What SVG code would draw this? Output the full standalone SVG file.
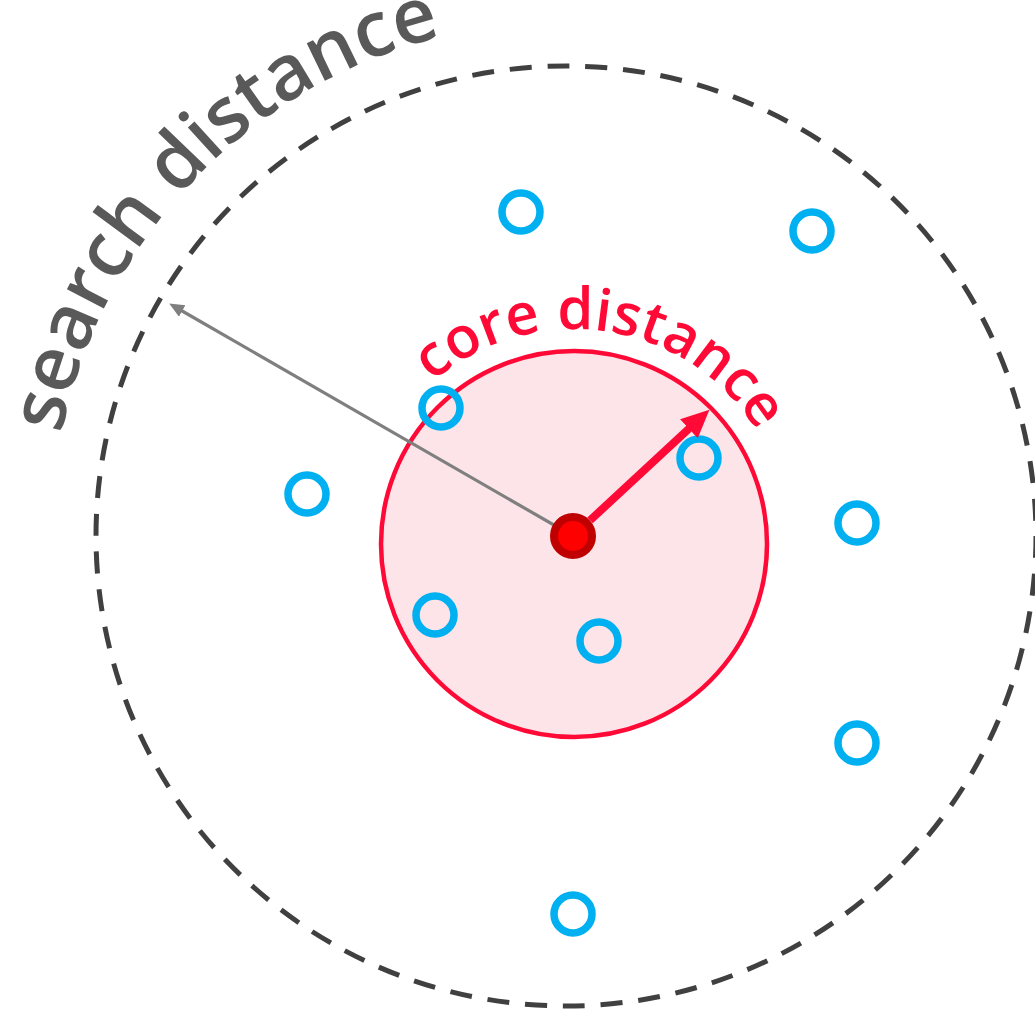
<svg xmlns="http://www.w3.org/2000/svg" xmlns:xlink="http://www.w3.org/1999/xlink" width="1035" height="1012" viewBox="0 0 1035 1012">
  <style>
    .pt { fill: none; stroke: #00B0F0; stroke-width: 7.5; }
    .lbl { font-family: "Open Sans", "Noto Sans", "DejaVu Sans", sans-serif; font-weight: 600; }
  </style>
  <defs>
    <path id="searchArc" d="M 51 536 A 515 515 0 0 1 1081 536"/>
    <path id="coreArc" d="M 359 544 A 215 215 0 0 1 789 544"/>
    <marker id="redHead" markerUnits="userSpaceOnUse" markerWidth="30" markerHeight="28" refX="6" refY="13" orient="auto">
      <path d="M0,0 L28,13 L0,26 z" fill="#FF0A37"/>
    </marker>
    <marker id="grayHead" markerUnits="userSpaceOnUse" markerWidth="16" markerHeight="14" refX="4" refY="6.5" orient="auto">
      <path d="M0,0 L15,6.5 L0,13 z" fill="#7F7F7F"/>
    </marker>
  </defs>
  <rect width="1035" height="1012" fill="#FFFFFF"/>

  <g id="search-circle">
    <circle cx="566" cy="536" r="470" fill="none" stroke="#404040" stroke-width="5" stroke-dasharray="22 15.86"/>
  </g>
  <g id="core-circle">
    <circle cx="574" cy="544" r="193" fill="#FCE4E9" stroke="#FF0A37" stroke-width="4.5"/>
  </g>

  <g id="points">
    <circle id="p1" class="pt" cx="521" cy="212" r="19"/>
    <circle id="p2" class="pt" cx="812" cy="231" r="19"/>
    <circle id="p3" class="pt" cx="441" cy="408" r="19"/>
    <circle id="p4" class="pt" cx="699" cy="458" r="19"/>
    <circle id="p5" class="pt" cx="307" cy="494" r="19"/>
    <circle id="p6" class="pt" cx="857" cy="523" r="19"/>
    <circle id="p7" class="pt" cx="435" cy="615" r="19"/>
    <circle id="p8" class="pt" cx="599" cy="641" r="19"/>
    <circle id="p9" class="pt" cx="857" cy="743" r="19"/>
    <circle id="p10" class="pt" cx="573" cy="914" r="19"/>
  </g>

  <g id="connectors">
    <line x1="573" y1="536" x2="178.7" y2="309" stroke="#7F7F7F" stroke-width="3.2" marker-end="url(#grayHead)"/>
    <line x1="590" y1="520.4" x2="693.3" y2="424.6" stroke="#FF0A37" stroke-width="8" marker-end="url(#redHead)"/>
  </g>

  <g id="core-point">
    <circle cx="573" cy="536" r="19" fill="#FF0000" stroke="#C00000" stroke-width="8"/>
  </g>

  <g id="search-label">
    <text class="lbl" font-size="77" fill="#595959"><textPath xlink:href="#searchArc" href="#searchArc" startOffset="393" text-anchor="middle">search distance</textPath></text>
  </g>
  <g id="core-label">
    <text class="lbl" font-size="58" fill="#FF0A37"><textPath xlink:href="#coreArc" href="#coreArc" startOffset="370" text-anchor="middle">core distance</textPath></text>
  </g>
</svg>
